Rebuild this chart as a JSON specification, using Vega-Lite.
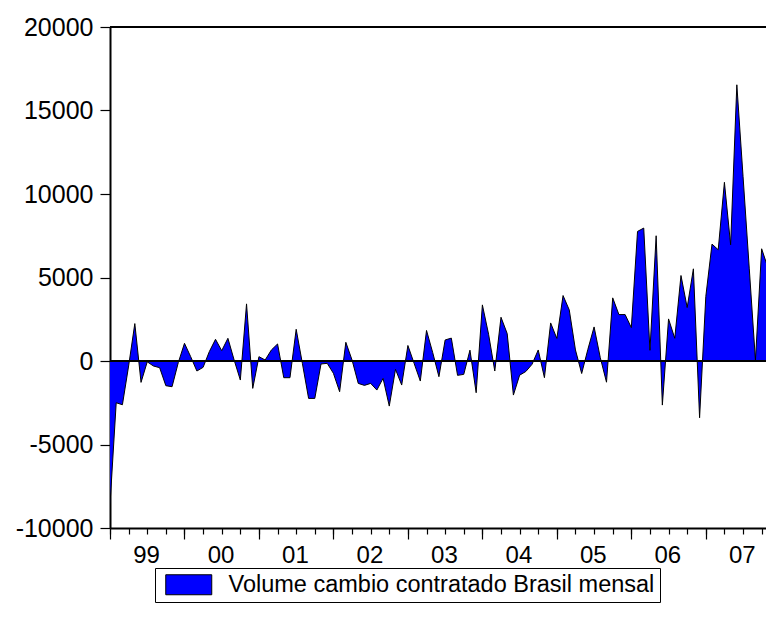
{
  "$schema": "https://vega.github.io/schema/vega-lite/v6.json",
  "width": 656,
  "height": 501,
  "autosize": {"type": "none"},
  "padding": {"left": 110, "top": 27, "right": 0, "bottom": 107},
  "background": "white",
  "config": {
    "view": {"stroke": null},
    "font": "Liberation Sans",
    "axis": {"grid": false, "domainColor": "black", "tickColor": "black", "labelColor": "black", "labelFont": "Liberation Sans", "labelFontSize": 24, "title": null}
  },
  "resolve": {"axis": {"x": "independent"}},
  "data": {
    "values": [
      {"t": 0, "v": -8600, "s": "Volume cambio contratado Brasil mensal"},
      {"t": 1, "v": -2500, "s": "Volume cambio contratado Brasil mensal"},
      {"t": 2, "v": -2620, "s": "Volume cambio contratado Brasil mensal"},
      {"t": 3, "v": -300, "s": "Volume cambio contratado Brasil mensal"},
      {"t": 4, "v": 2240, "s": "Volume cambio contratado Brasil mensal"},
      {"t": 5, "v": -1280, "s": "Volume cambio contratado Brasil mensal"},
      {"t": 6, "v": -50, "s": "Volume cambio contratado Brasil mensal"},
      {"t": 7, "v": -300, "s": "Volume cambio contratado Brasil mensal"},
      {"t": 8, "v": -400, "s": "Volume cambio contratado Brasil mensal"},
      {"t": 9, "v": -1480, "s": "Volume cambio contratado Brasil mensal"},
      {"t": 10, "v": -1540, "s": "Volume cambio contratado Brasil mensal"},
      {"t": 11, "v": -100, "s": "Volume cambio contratado Brasil mensal"},
      {"t": 12, "v": 1060, "s": "Volume cambio contratado Brasil mensal"},
      {"t": 13, "v": 260, "s": "Volume cambio contratado Brasil mensal"},
      {"t": 14, "v": -600, "s": "Volume cambio contratado Brasil mensal"},
      {"t": 15, "v": -380, "s": "Volume cambio contratado Brasil mensal"},
      {"t": 16, "v": 560, "s": "Volume cambio contratado Brasil mensal"},
      {"t": 17, "v": 1300, "s": "Volume cambio contratado Brasil mensal"},
      {"t": 18, "v": 620, "s": "Volume cambio contratado Brasil mensal"},
      {"t": 19, "v": 1360, "s": "Volume cambio contratado Brasil mensal"},
      {"t": 20, "v": 60, "s": "Volume cambio contratado Brasil mensal"},
      {"t": 21, "v": -1140, "s": "Volume cambio contratado Brasil mensal"},
      {"t": 22, "v": 3420, "s": "Volume cambio contratado Brasil mensal"},
      {"t": 23, "v": -1640, "s": "Volume cambio contratado Brasil mensal"},
      {"t": 24, "v": 260, "s": "Volume cambio contratado Brasil mensal"},
      {"t": 25, "v": 60, "s": "Volume cambio contratado Brasil mensal"},
      {"t": 26, "v": 660, "s": "Volume cambio contratado Brasil mensal"},
      {"t": 27, "v": 1020, "s": "Volume cambio contratado Brasil mensal"},
      {"t": 28, "v": -1000, "s": "Volume cambio contratado Brasil mensal"},
      {"t": 29, "v": -1000, "s": "Volume cambio contratado Brasil mensal"},
      {"t": 30, "v": 1900, "s": "Volume cambio contratado Brasil mensal"},
      {"t": 31, "v": -150, "s": "Volume cambio contratado Brasil mensal"},
      {"t": 32, "v": -2240, "s": "Volume cambio contratado Brasil mensal"},
      {"t": 33, "v": -2240, "s": "Volume cambio contratado Brasil mensal"},
      {"t": 34, "v": -180, "s": "Volume cambio contratado Brasil mensal"},
      {"t": 35, "v": -140, "s": "Volume cambio contratado Brasil mensal"},
      {"t": 36, "v": -740, "s": "Volume cambio contratado Brasil mensal"},
      {"t": 37, "v": -1840, "s": "Volume cambio contratado Brasil mensal"},
      {"t": 38, "v": 1120, "s": "Volume cambio contratado Brasil mensal"},
      {"t": 39, "v": 60, "s": "Volume cambio contratado Brasil mensal"},
      {"t": 40, "v": -1340, "s": "Volume cambio contratado Brasil mensal"},
      {"t": 41, "v": -1460, "s": "Volume cambio contratado Brasil mensal"},
      {"t": 42, "v": -1340, "s": "Volume cambio contratado Brasil mensal"},
      {"t": 43, "v": -1740, "s": "Volume cambio contratado Brasil mensal"},
      {"t": 44, "v": -1040, "s": "Volume cambio contratado Brasil mensal"},
      {"t": 45, "v": -2700, "s": "Volume cambio contratado Brasil mensal"},
      {"t": 46, "v": -500, "s": "Volume cambio contratado Brasil mensal"},
      {"t": 47, "v": -1440, "s": "Volume cambio contratado Brasil mensal"},
      {"t": 48, "v": 930, "s": "Volume cambio contratado Brasil mensal"},
      {"t": 49, "v": -140, "s": "Volume cambio contratado Brasil mensal"},
      {"t": 50, "v": -1200, "s": "Volume cambio contratado Brasil mensal"},
      {"t": 51, "v": 1830, "s": "Volume cambio contratado Brasil mensal"},
      {"t": 52, "v": 500, "s": "Volume cambio contratado Brasil mensal"},
      {"t": 53, "v": -940, "s": "Volume cambio contratado Brasil mensal"},
      {"t": 54, "v": 1260, "s": "Volume cambio contratado Brasil mensal"},
      {"t": 55, "v": 1370, "s": "Volume cambio contratado Brasil mensal"},
      {"t": 56, "v": -860, "s": "Volume cambio contratado Brasil mensal"},
      {"t": 57, "v": -800, "s": "Volume cambio contratado Brasil mensal"},
      {"t": 58, "v": 650, "s": "Volume cambio contratado Brasil mensal"},
      {"t": 59, "v": -1900, "s": "Volume cambio contratado Brasil mensal"},
      {"t": 60, "v": 3360, "s": "Volume cambio contratado Brasil mensal"},
      {"t": 61, "v": 1600, "s": "Volume cambio contratado Brasil mensal"},
      {"t": 62, "v": -600, "s": "Volume cambio contratado Brasil mensal"},
      {"t": 63, "v": 2620, "s": "Volume cambio contratado Brasil mensal"},
      {"t": 64, "v": 1640, "s": "Volume cambio contratado Brasil mensal"},
      {"t": 65, "v": -2040, "s": "Volume cambio contratado Brasil mensal"},
      {"t": 66, "v": -850, "s": "Volume cambio contratado Brasil mensal"},
      {"t": 67, "v": -630, "s": "Volume cambio contratado Brasil mensal"},
      {"t": 68, "v": -200, "s": "Volume cambio contratado Brasil mensal"},
      {"t": 69, "v": 660, "s": "Volume cambio contratado Brasil mensal"},
      {"t": 70, "v": -1000, "s": "Volume cambio contratado Brasil mensal"},
      {"t": 71, "v": 2280, "s": "Volume cambio contratado Brasil mensal"},
      {"t": 72, "v": 1350, "s": "Volume cambio contratado Brasil mensal"},
      {"t": 73, "v": 3920, "s": "Volume cambio contratado Brasil mensal"},
      {"t": 74, "v": 3060, "s": "Volume cambio contratado Brasil mensal"},
      {"t": 75, "v": 660, "s": "Volume cambio contratado Brasil mensal"},
      {"t": 76, "v": -750, "s": "Volume cambio contratado Brasil mensal"},
      {"t": 77, "v": 700, "s": "Volume cambio contratado Brasil mensal"},
      {"t": 78, "v": 2040, "s": "Volume cambio contratado Brasil mensal"},
      {"t": 79, "v": 200, "s": "Volume cambio contratado Brasil mensal"},
      {"t": 80, "v": -1270, "s": "Volume cambio contratado Brasil mensal"},
      {"t": 81, "v": 3780, "s": "Volume cambio contratado Brasil mensal"},
      {"t": 82, "v": 2780, "s": "Volume cambio contratado Brasil mensal"},
      {"t": 83, "v": 2780, "s": "Volume cambio contratado Brasil mensal"},
      {"t": 84, "v": 2000, "s": "Volume cambio contratado Brasil mensal"},
      {"t": 85, "v": 7760, "s": "Volume cambio contratado Brasil mensal"},
      {"t": 86, "v": 7960, "s": "Volume cambio contratado Brasil mensal"},
      {"t": 87, "v": 640, "s": "Volume cambio contratado Brasil mensal"},
      {"t": 88, "v": 7500, "s": "Volume cambio contratado Brasil mensal"},
      {"t": 89, "v": -2640, "s": "Volume cambio contratado Brasil mensal"},
      {"t": 90, "v": 2520, "s": "Volume cambio contratado Brasil mensal"},
      {"t": 91, "v": 1360, "s": "Volume cambio contratado Brasil mensal"},
      {"t": 92, "v": 5120, "s": "Volume cambio contratado Brasil mensal"},
      {"t": 93, "v": 3200, "s": "Volume cambio contratado Brasil mensal"},
      {"t": 94, "v": 5520, "s": "Volume cambio contratado Brasil mensal"},
      {"t": 95, "v": -3400, "s": "Volume cambio contratado Brasil mensal"},
      {"t": 96, "v": 3860, "s": "Volume cambio contratado Brasil mensal"},
      {"t": 97, "v": 7000, "s": "Volume cambio contratado Brasil mensal"},
      {"t": 98, "v": 6660, "s": "Volume cambio contratado Brasil mensal"},
      {"t": 99, "v": 10700, "s": "Volume cambio contratado Brasil mensal"},
      {"t": 100, "v": 6960, "s": "Volume cambio contratado Brasil mensal"},
      {"t": 101, "v": 16540, "s": "Volume cambio contratado Brasil mensal"},
      {"t": 102, "v": 11060, "s": "Volume cambio contratado Brasil mensal"},
      {"t": 103, "v": 5560, "s": "Volume cambio contratado Brasil mensal"},
      {"t": 104, "v": 50, "s": "Volume cambio contratado Brasil mensal"},
      {"t": 105, "v": 6720, "s": "Volume cambio contratado Brasil mensal"},
      {"t": 106, "v": 5600, "s": "Volume cambio contratado Brasil mensal"}
    ]
  },
  "layer": [
    {
      "mark": {"type": "area", "clip": true, "strokeWidth": 0},
      "encoding": {
        "x": {
          "field": "t", "type": "quantitative",
          "scale": {"domain": [0, 105.7], "nice": false, "zero": false},
          "axis": {
            "orient": "bottom",
            "values": [0, 12, 24, 36, 48, 60, 72, 84, 96],
            "labelExpr": "slice('0' + ((99 + datum.value / 12) % 100), -2)",
            "tickSize": 11,
            "tickWidth": 1.2,
            "domainWidth": 2,
            "labelOffset": 36,
            "labelPadding": 4,
            "labelFlush": false,
            "labelOverlap": false,
            "labelBound": false
          }
        },
        "y": {
          "field": "v", "type": "quantitative", "stack": null,
          "scale": {"domain": [-10000, 20000], "nice": false},
          "axis": {
            "values": [-10000, -5000, 0, 5000, 10000, 15000, 20000],
            "labelExpr": "'' + datum.value",
            "tickSize": 10,
            "tickWidth": 1.2,
            "domainWidth": 2,
            "labelFontSize": 25,
            "labelPadding": 7
          }
        },
        "y2": {"datum": 0},
        "fill": {
          "field": "s", "type": "nominal",
          "scale": {"range": ["#0000ff"]},
          "legend": {
            "title": null,
            "orient": "none",
            "legendX": 45,
            "legendY": 541,
            "strokeColor": "black",
            "fillColor": "white",
            "padding": 5,
            "symbolType": "M-2.3,-1L2.3,-1L2.3,1L-2.3,1Z",
            "symbolSize": 400,
            "symbolOffset": 17,
            "symbolStrokeColor": "black",
            "symbolStrokeWidth": 1,
            "symbolOpacity": 1,
            "labelFont": "Liberation Sans",
            "labelFontSize": 23.5,
            "labelColor": "black",
            "labelLimit": 1000,
            "labelOffset": 28
          }
        }
      }
    },
    {
      "mark": {"type": "line", "color": "black", "strokeWidth": 1, "clip": true},
      "encoding": {
        "x": {
          "field": "t", "type": "quantitative",
          "axis": {
            "orient": "bottom",
            "values": [0,3,6,9,12,15,18,21,24,27,30,33,36,39,42,45,48,51,54,57,60,63,66,69,72,75,78,81,84,87,90,93,96,99,102,105],
            "labels": false,
            "domain": false,
            "tickSize": 6,
            "tickWidth": 1.2
          }
        },
        "y": {"field": "v", "type": "quantitative"}
      }
    },
    {
      "mark": {"type": "rule", "color": "black", "strokeWidth": 1.2},
      "encoding": {"y": {"datum": 0}}
    },
    {
      "mark": {"type": "rule", "color": "black", "strokeWidth": 1.5},
      "encoding": {"y": {"datum": 20000}}
    }
  ]
}
